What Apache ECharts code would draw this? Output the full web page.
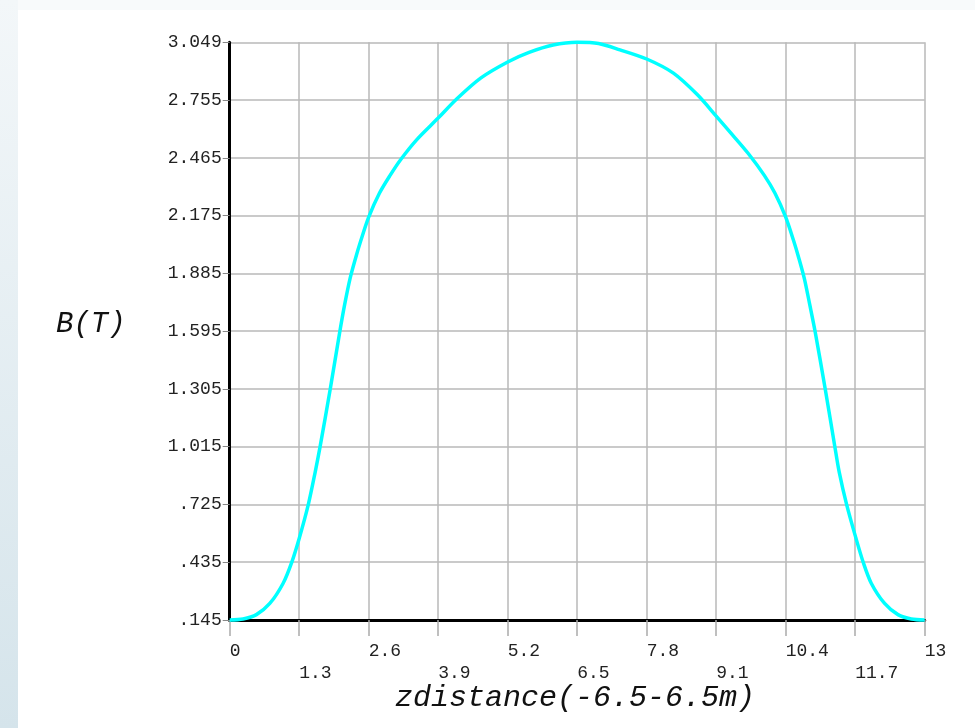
<!DOCTYPE html>
<html>
<head>
<meta charset="utf-8">
<script src="https://cdn.jsdelivr.net/npm/echarts@6/dist/echarts.min.js"></script>
<style>
html,body{margin:0;padding:0;background:#fff;}
#chart{width:975px;height:728px;}
</style>
</head>
<body>
<div id="chart"></div>
<script>
// ---- data ----
var zValues = [0, 0.25, 0.5, 0.75, 1.0, 1.16, 1.3, 1.47, 1.6, 1.69, 1.88, 2.06, 2.15, 2.25, 2.35, 2.45, 2.6, 2.8, 3.0, 3.2, 3.5, 3.9, 4.25, 4.7, 5.2, 5.6, 6.05, 6.5, 6.9, 7.3, 7.8, 8.3, 8.75, 9.1, 9.4, 9.7, 10.0, 10.2, 10.4, 10.55, 10.65, 10.75, 10.85, 10.95, 11.14, 11.32, 11.4, 11.54, 11.71, 11.85, 12.0, 12.25, 12.5, 12.75, 13];
var bValues = [0.145, 0.150, 0.172, 0.228, 0.33, 0.435, 0.555, 0.725, 0.89, 1.015, 1.305, 1.595, 1.73, 1.86, 1.96, 2.05, 2.17, 2.29, 2.38, 2.46, 2.56, 2.668, 2.765, 2.87, 2.95, 2.998, 3.035, 3.049, 3.043, 3.011, 2.965, 2.894, 2.785, 2.678, 2.585, 2.49, 2.38, 2.29, 2.17, 2.05, 1.96, 1.86, 1.73, 1.595, 1.305, 1.015, 0.89, 0.725, 0.56, 0.435, 0.33, 0.228, 0.172, 0.150, 0.145];
var xTickLabels = ['0', '1.3', '2.6', '3.9', '5.2', '6.5', '7.8', '9.1', '10.4', '11.7', '13'];
var yTickLabels = ['.145', '.435', '.725', '1.015', '1.305', '1.595', '1.885', '2.175', '2.465', '2.755', '3.049'];
var xTitle = 'zdistance(-6.5-6.5m)';
var yTitle = 'B(T)';

// ---- chart ----
var yMin = 0.145, yMax = 3.049, yStep = (yMax - yMin) / 10;
var xMin = 0, xMax = 13, xStep = 1.3;
var seriesData = zValues.map(function (z, i) { return [z, bValues[i]]; });

var chart = echarts.init(document.getElementById('chart'), null, {renderer: 'canvas'});
var labelFont = 'Liberation Mono';
chart.setOption({
  animation: false,
  backgroundColor: '#ffffff',
  grid: {left: 229.7, right: 50.3, top: 42.3, bottom: 108, containLabel: false},
  graphic: [
    {type: 'rect', z: -10, shape: {x: 0, y: 0, width: 975, height: 10},
      style: {fill: '#f8fafb'}},
    {type: 'rect', z: -9, shape: {x: 0, y: 0, width: 18, height: 728},
      style: {fill: new echarts.graphic.LinearGradient(0, 0, 0, 1, [
        {offset: 0, color: '#f3f7f9'}, {offset: 1, color: '#d5e4eb'}])}},
    {type: 'text', z: 10, style: {text: yTitle, x: 56, y: 324, fill: '#111',
      font: 'italic 29px "Liberation Mono"', textAlign: 'left', textVerticalAlign: 'middle'}},
    {type: 'text', z: 10, style: {text: xTitle, x: 575, y: 698, fill: '#111',
      font: 'italic 30px "Liberation Mono"', textAlign: 'center', textVerticalAlign: 'middle'}}
  ],
  xAxis: {
    type: 'value', min: xMin, max: xMax, interval: xStep,
    axisLine: {show: true, onZero: false, lineStyle: {color: '#000', width: 3}},
    axisTick: {show: true, length: 16, lineStyle: {color: '#aaa', width: 1.5}},
    splitLine: {show: true, lineStyle: {color: '#b8b8b8', width: 1.5}},
    axisLabel: {
      show: true, margin: 20, align: 'left', color: '#222',
      fontFamily: labelFont, fontSize: 18, lineHeight: 22,
      showMinLabel: true, showMaxLabel: true, hideOverlap: false,
      formatter: function (v) {
        var idx = Math.round((v - xMin) / xStep);
        var s = xTickLabels[idx] || '';
        return idx % 2 === 1 ? '\n' + s : s;
      }
    }
  },
  yAxis: {
    type: 'value', min: yMin, max: yMax, interval: yStep,
    axisLine: {show: true, onZero: false, lineStyle: {color: '#000', width: 3}},
    axisTick: {show: true, length: 7, lineStyle: {color: '#888', width: 1}},
    splitLine: {show: true, lineStyle: {color: '#b8b8b8', width: 1.5}},
    axisLabel: {
      show: true, margin: 8, color: '#222', fontFamily: labelFont, fontSize: 18,
      showMinLabel: true, showMaxLabel: true, hideOverlap: false,
      formatter: function (v) {
        var idx = Math.round((v - yMin) / yStep);
        return yTickLabels[idx] || '';
      }
    }
  },
  series: [{
    type: 'line', data: seriesData, showSymbol: false, smooth: 0.3,
    clip: false, z: 5,
    lineStyle: {color: '#00ffff', width: 3.5}
  }]
});
</script>
</body>
</html>
